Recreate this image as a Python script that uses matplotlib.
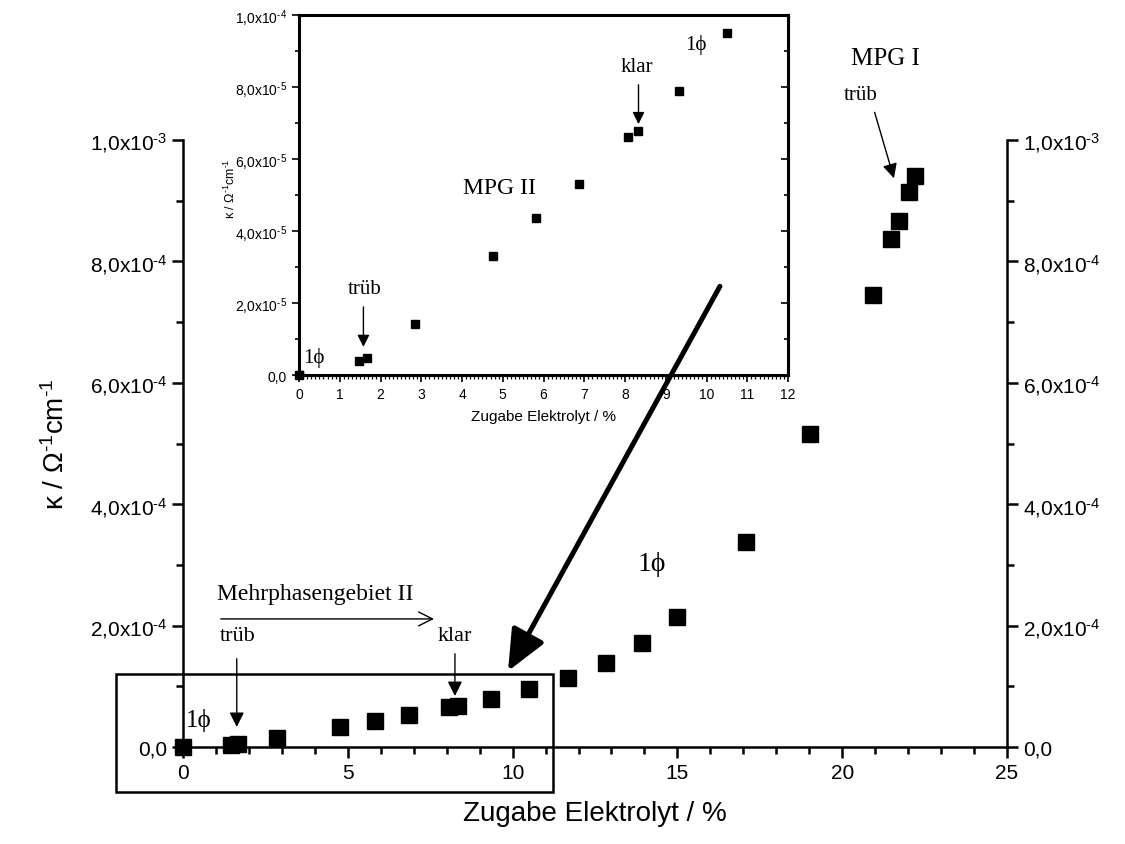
import numpy as np
import matplotlib
matplotlib.use('Agg')
import matplotlib.pyplot as plt
from matplotlib.patches import Rectangle
from matplotlib.ticker import MultipleLocator, FuncFormatter

plt.rcParams['font.family'] = ['Liberation Sans', 'DejaVu Sans']
plt.rcParams['mathtext.fontset'] = 'custom'
plt.rcParams['mathtext.rm'] = 'Liberation Sans'
plt.rcParams['mathtext.it'] = 'Liberation Sans:italic'
SERIF = ['Liberation Serif', 'DejaVu Serif']

# conductivity vs. added electrolyte
zugabe = [0, 1.46, 1.68, 2.85, 4.75, 5.82, 6.86, 8.08, 8.33, 9.33, 10.5,
          11.69, 12.83, 13.94, 15.0, 17.07, 19.02, 20.94, 21.48, 21.71, 22.04, 22.21]
kappa = [0, 3.9e-6, 4.7e-6, 1.42e-5, 3.3e-5, 4.35e-5, 5.3e-5, 6.6e-5, 6.78e-5,
         7.89e-5, 9.5e-5, 1.13e-4, 1.38e-4, 1.72e-4, 2.14e-4, 3.37e-4, 5.15e-4,
         7.44e-4, 8.37e-4, 8.66e-4, 9.14e-4, 9.41e-4]


def komma_sci(v, pos):
    if abs(v) < 1e-12:
        return '0,0'
    exp = int(np.floor(np.log10(abs(v)) + 1e-9))
    mant = v / 10.0**exp
    return f'{mant:.1f}'.replace('.', ',') + r'x10$^{\text{-}%d}$' % abs(exp)


fig = plt.figure(figsize=(11.25, 8.45), dpi=100)
ax = fig.add_axes([0.1627, 0.1148, 0.7324, 0.7183])

ax.plot(zugabe, kappa, 's', color='k', ms=11, clip_on=False, zorder=5)
ax.set_xlim(0, 25)
ax.set_ylim(0, 1e-3)
ax.spines['top'].set_visible(False)
for s in ['left', 'right', 'bottom']:
    ax.spines[s].set_linewidth(1.8)
ax.xaxis.set_major_locator(MultipleLocator(5))
ax.xaxis.set_minor_locator(MultipleLocator(1))
ax.yaxis.set_major_locator(MultipleLocator(2e-4))
ax.yaxis.set_minor_locator(MultipleLocator(1e-4))
ax.yaxis.set_major_formatter(FuncFormatter(komma_sci))
ax.tick_params(which='both', direction='out', width=1.8, labelsize=15,
               left=True, right=True, labelleft=True, labelright=True)
ax.tick_params(which='major', length=8)
ax.tick_params(which='minor', length=5)
ax.set_xlabel('Zugabe Elektrolyt / %', fontsize=20, labelpad=13)
ax.set_ylabel(r'κ / Ω$^{\text{-}1}$cm$^{\text{-}1}$', fontsize=20, labelpad=14)

# highlighted region that the inset enlarges
ax.add_patch(Rectangle((-2.03, -7.4e-5), 13.26, 1.94e-4, fill=False,
                       lw=1.8, ec='k', clip_on=False))

arr = dict(arrowstyle='-|>', color='k', lw=1.0, mutation_scale=22, shrinkB=0)
ax.text(20.55, 1.075e-3, 'trüb', family=SERIF, fontsize=15, ha='center', va='center')
ax.annotate('', xy=(21.57, 9.37e-4), xytext=(20.96, 1.05e-3), arrowprops=arr,
            annotation_clip=False)
ax.text(21.3, 1.135e-3, 'MPG I', family=SERIF, fontsize=18, ha='center', va='center')
ax.text(14.23, 3.02e-4, '1ϕ', family=SERIF, fontsize=20, ha='center', va='center')
ax.text(0.1, 4.6e-5, '1ϕ', family=SERIF, fontsize=18, ha='left', va='center')
ax.text(1.03, 2.44e-4, 'Mehrphasengebiet II', family=SERIF, fontsize=17,
        ha='left', va='baseline')
ax.annotate('', xy=(7.7, 2.11e-4), xytext=(1.06, 2.11e-4),
            arrowprops=dict(arrowstyle='->', color='k', lw=1.0, mutation_scale=25))
ax.text(1.65, 1.83e-4, 'trüb', family=SERIF, fontsize=16, ha='center', va='center')
ax.annotate('', xy=(1.63, 3.3e-5), xytext=(1.63, 1.5e-4), arrowprops=arr)
ax.text(8.25, 1.83e-4, 'klar', family=SERIF, fontsize=16, ha='center', va='center')
ax.annotate('', xy=(8.25, 8.4e-5), xytext=(8.25, 1.58e-4), arrowprops=arr)

# inset: low-concentration range
axi = fig.add_axes([0.2658, 0.555, 0.4347, 0.426])
axi.plot(zugabe, kappa, 's', color='k', ms=6, clip_on=True, zorder=5)
axi.plot(zugabe[0], kappa[0], 's', color='k', ms=6, clip_on=False, zorder=5)
axi.set_xlim(0, 12)
axi.set_ylim(0, 1e-4)
for s in axi.spines.values():
    s.set_linewidth(2.2)
axi.xaxis.set_major_locator(MultipleLocator(1))
axi.xaxis.set_minor_locator(MultipleLocator(0.1))
axi.yaxis.set_major_locator(MultipleLocator(2e-5))
axi.yaxis.set_minor_locator(MultipleLocator(1e-5))
axi.yaxis.set_major_formatter(FuncFormatter(komma_sci))
axi.tick_params(which='both', direction='out', width=1.2, labelsize=10)
axi.tick_params(which='major', length=5)
axi.tick_params(which='minor', length=3)
axi.tick_params(axis='x', which='minor', length=3, width=0.9)
axi.set_xlabel('Zugabe Elektrolyt / %', fontsize=11, labelpad=6)
axi.set_ylabel(r'κ / Ω$^{\text{-}1}$cm$^{\text{-}1}$', fontsize=9)
axi.yaxis.set_label_coords(-0.125, 0.52)
right = axi.secondary_yaxis('right')
right.yaxis.set_major_locator(MultipleLocator(2e-5))
right.yaxis.set_minor_locator(MultipleLocator(1e-5))
right.tick_params(which='both', direction='in', labelright=False, width=1.2)
right.tick_params(which='major', length=5)
right.tick_params(which='minor', length=3)
right.spines['right'].set_linewidth(2.2)

arr_i = dict(arrowstyle='-|>', color='k', lw=1.0, mutation_scale=18, shrinkB=0)
axi.text(0.1, 5e-6, '1ϕ', family=SERIF, fontsize=15, ha='left', va='center')
axi.text(1.6, 2.39e-5, 'trüb', family=SERIF, fontsize=15, ha='center', va='center')
axi.annotate('', xy=(1.58, 7.8e-6), xytext=(1.58, 1.97e-5), arrowprops=arr_i)
axi.text(4.93, 5.22e-5, 'MPG II', family=SERIF, fontsize=17, ha='center', va='center')
axi.text(8.3, 8.58e-5, 'klar', family=SERIF, fontsize=15, ha='center', va='center')
axi.annotate('', xy=(8.33, 6.97e-5), xytext=(8.33, 8.14e-5), arrowprops=arr_i)
axi.text(9.73, 9.19e-5, '1ϕ', family=SERIF, fontsize=15, ha='center', va='center')

# thick arrow from the inset down to the boxed region
axi.annotate('', xy=(9.86, 1.25e-4), xycoords=ax.transData,
             xytext=(16.29, 7.59e-4), textcoords=ax.transData,
             arrowprops=dict(arrowstyle='-|>,head_length=1.25,head_width=0.55',
                             color='k', lw=3.6, mutation_scale=20,
                             shrinkA=0, shrinkB=0),
             annotation_clip=False)

fig.savefig('out.png', dpi=100)
